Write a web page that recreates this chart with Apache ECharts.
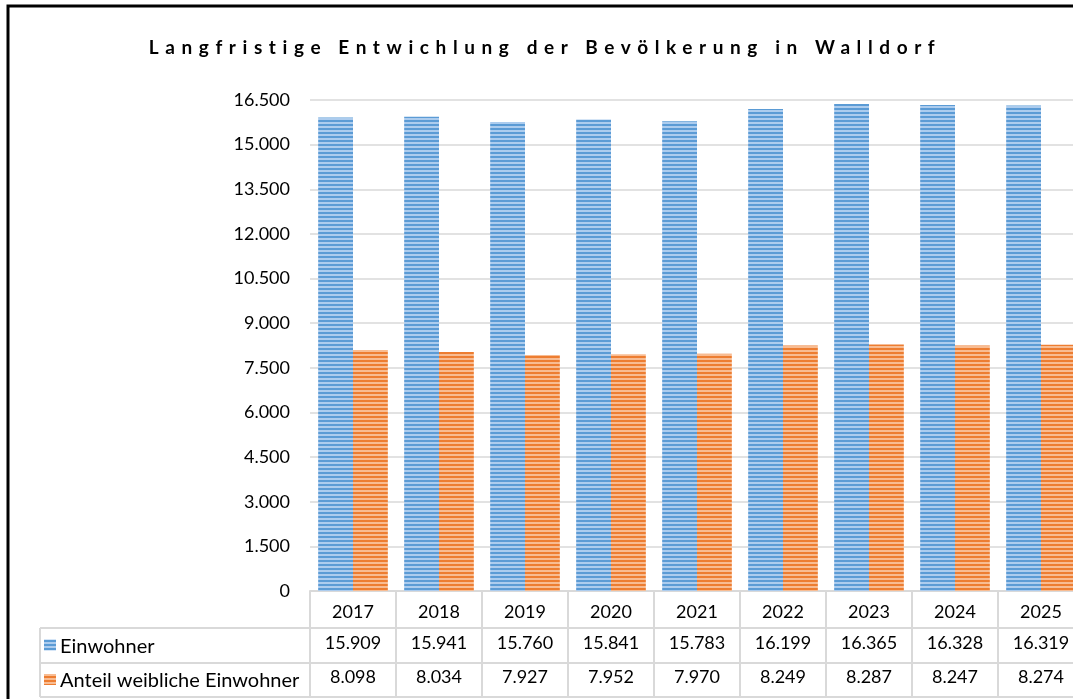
<!DOCTYPE html>
<html>
<head>
<meta charset="utf-8">
<script src="https://cdn.jsdelivr.net/npm/echarts@6/dist/echarts.min.js"></script>
<style>
  html, body { margin: 0; padding: 0; overflow: hidden; background: #fff; }
  #wrap { position: relative; width: 1073px; height: 699px; overflow: hidden; }
  #main { position: absolute; left: 0; top: 0; width: 1120px; height: 699px; }
  #title {
    position: absolute; left: 0; top: 35px; width: 1090px; text-align: center;
    font-family: Lato, sans-serif; font-weight: bold; font-size: 19px;
    letter-spacing: 6.6px; color: #000; white-space: nowrap;
  }
</style>
</head>
<body>
<div id="wrap">
  <div id="main"></div>
  <div id="title">Langfristige Entwichlung der Bevölkerung in Walldorf</div>
</div>
<script>
// Daten
const jahre = ['2017', '2018', '2019', '2020', '2021', '2022', '2023', '2024', '2025'];
const einwohner = [15909, 15941, 15760, 15841, 15783, 16199, 16365, 16328, 16319];
const weiblich = [8098, 8034, 7927, 7952, 7970, 8249, 8287, 8247, 8274];
const serienNamen = ['Einwohner', 'Anteil weibliche Einwohner'];

// deutsche Tausenderpunkte
function fmt(v) {
  return String(v).replace(/\B(?=(\d{3})+(?!\d))/g, '.');
}

// gestreifte Füllung wie in Excel
function streifen(dunkel, hell) {
  const c = document.createElement('canvas');
  c.width = 4; c.height = 4;
  const ctx = c.getContext('2d');
  ctx.fillStyle = hell;
  ctx.fillRect(0, 0, 4, 4);
  ctx.fillStyle = dunkel;
  ctx.fillRect(0, 0, 4, 2);
  return { image: c, repeat: 'repeat' };
}

const blau = streifen('#5b9bd5', '#acccee');
const orange = streifen('#ed7d31', '#f8bc92');

const gridLeft = 310, gridTop = 100, gridH = 491, catW = 86;
const gridW = catW * jahre.length;
const rowH = 34;
const lineCol = '#d9d9d9';
const font = 'Lato, sans-serif';
const zahlGr = 18;

const chart = echarts.init(document.getElementById('main'), null, { renderer: 'canvas' });

// Tabellenlinien
const graphics = [];
const tableLeft = 40, tableRight = gridLeft + gridW + 20;
const rowTops = [gridTop + gridH + rowH + 3, gridTop + gridH + 2 * rowH + 4, gridTop + gridH + 3 * rowH + 4];
rowTops.forEach(function (y) {
  graphics.push({ type: 'line', shape: { x1: tableLeft, y1: y, x2: tableRight, y2: y }, style: { stroke: lineCol, lineWidth: 2 }, silent: true });
});
graphics.push({ type: 'line', shape: { x1: tableLeft, y1: rowTops[0], x2: tableLeft, y2: rowTops[2] }, style: { stroke: lineCol, lineWidth: 2 }, silent: true });

// Legendenzeilen
[blau, orange].forEach(function (pat, i) {
  const yMid = (rowTops[i] + rowTops[i + 1]) / 2;
  graphics.push({ type: 'rect', shape: { x: 44, y: yMid - 6, width: 12, height: 11 }, style: { fill: pat }, silent: true });
  graphics.push({ type: 'text', x: 60, y: yMid + 1, style: { text: serienNamen[i], font: '20px ' + font, fill: '#000', verticalAlign: 'middle' }, silent: true });
});

// Rahmen
graphics.push({ type: 'rect', shape: { x: 8, y: 6, width: 1300, height: 900 }, style: { fill: 'none', stroke: '#000', lineWidth: 3 }, silent: true });

function zeilenAchse(werte, offset) {
  return {
    type: 'category', data: jahre, position: 'bottom', offset: offset,
    axisLine: { show: false }, axisTick: { show: false },
    axisLabel: { margin: 9, color: '#000', fontFamily: font, fontSize: zahlGr, formatter: function (v, i) { return fmt(werte[i]); } }
  };
}

chart.setOption({
  animation: false,
  grid: { left: gridLeft, top: gridTop, width: gridW, height: gridH },
  xAxis: [
    {
      type: 'category', data: jahre,
      axisLine: { show: true, lineStyle: { color: lineCol, width: 2 } },
      axisTick: { show: true, length: rowH * 3 + 4, lineStyle: { color: lineCol, width: 2 } },
      axisLabel: { margin: 12, color: '#000', fontFamily: font, fontSize: zahlGr }
    },
    zeilenAchse(einwohner, rowH),
    zeilenAchse(weiblich, rowH * 2)
  ],
  yAxis: {
    type: 'value', min: 0, max: 16500, interval: 1500,
    axisLine: { show: false }, axisTick: { show: false },
    splitLine: { lineStyle: { color: lineCol, width: 1.5 } },
    axisLabel: { margin: 20, color: '#000', fontFamily: font, fontSize: zahlGr, formatter: fmt }
  },
  series: [
    { name: serienNamen[0], type: 'bar', data: einwohner, barGap: 0, barCategoryGap: '19%', itemStyle: { color: blau } },
    { name: serienNamen[1], type: 'bar', data: weiblich, barGap: 0, barCategoryGap: '19%', itemStyle: { color: orange } }
  ],
  graphic: graphics
});
</script>
</body>
</html>
